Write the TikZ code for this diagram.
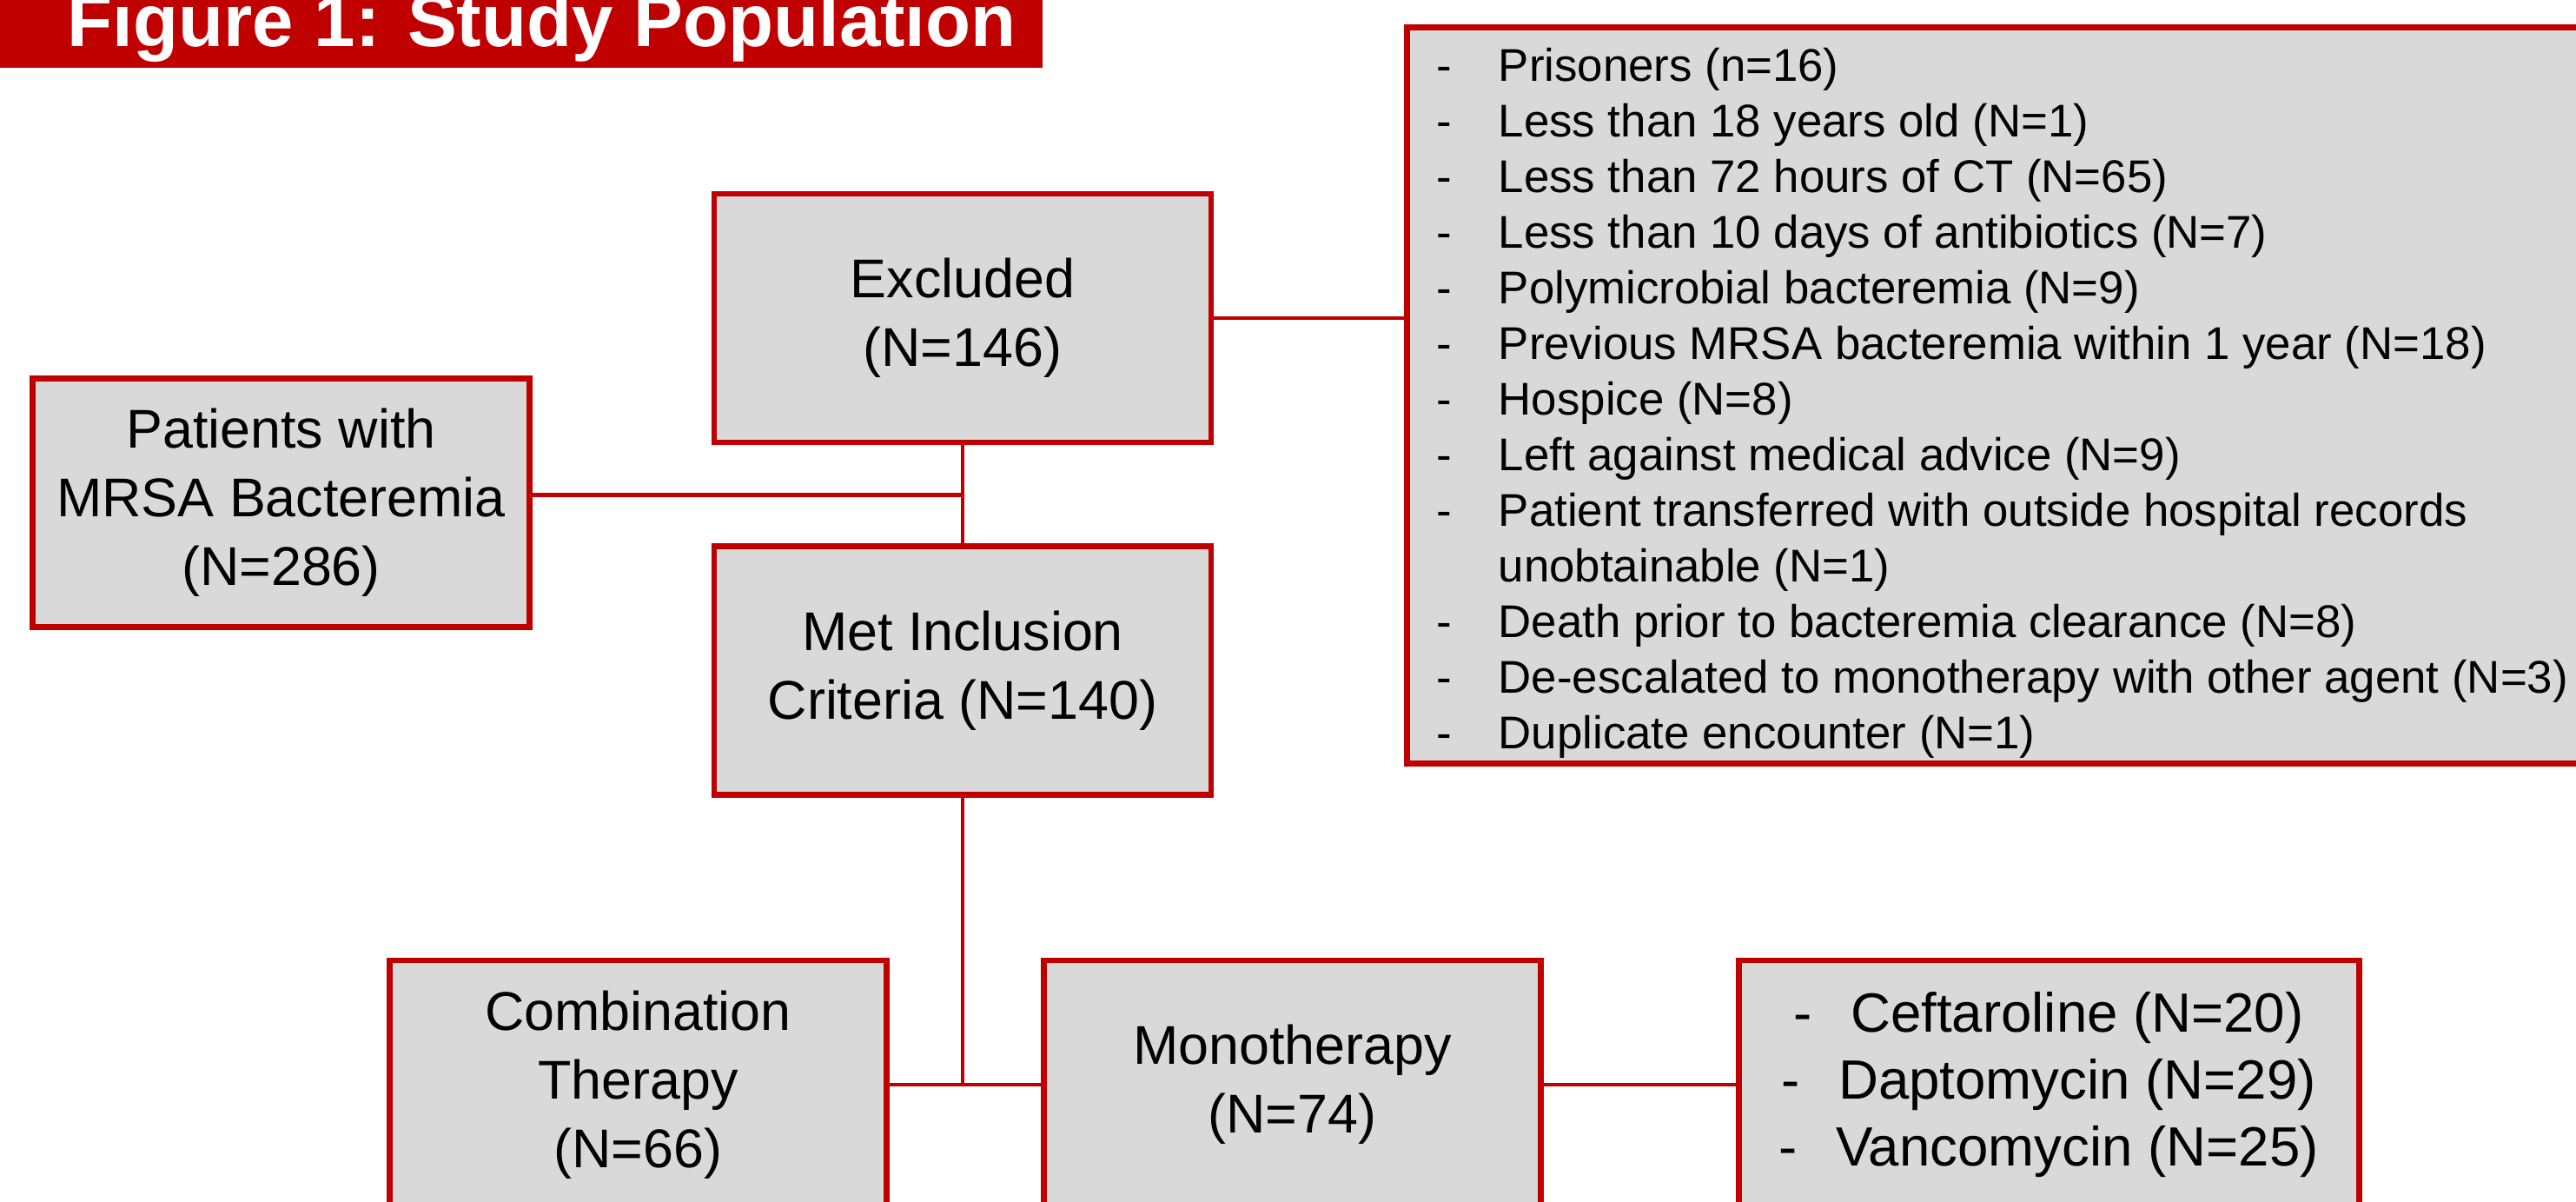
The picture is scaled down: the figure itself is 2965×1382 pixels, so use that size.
\documentclass[tikz,border=0pt]{standalone}
\usepackage{fontspec}
\setmainfont{Liberation Sans}
\usepackage{xcolor}
\usepackage{tikz}
\usetikzlibrary{positioning}
\definecolor{figred}{RGB}{192,0,0}
\definecolor{figgray}{RGB}{217,217,217}
\newcommand{\traco}{\makebox[17.75pt][l]{-}}

\begin{document}
\begin{tikzpicture}[
        x=0.25pt, y=-0.25pt,
        caixa/.style={draw=figred,fill=figgray,line width=1.7pt,minimum width=143pt,minimum height=71.5pt,align=center,inner sep=0pt,font=\fontsize{15.7}{19.8}\selectfont},
        liga/.style={draw=figred,line width=1.1pt}
    ]
        \path[use as bounding box,fill=white] (0,0) rectangle (2965,1382);

        % faixa do titulo
        \fill[figred] (-20,-100) rectangle (1200,78);
        \node[anchor=base west,inner sep=0pt,text=white,font=\fontsize{21.3}{25}\selectfont\bfseries] (titulo) at (77,53) {Figure 1: Study Population};

        \node[caixa] (pac) at (323.5,578.5) {Patients with\\MRSA Bacteremia\\(N=286)};
        \node[caixa] (exc) at (1108,366) {Excluded\\(N=146)};
        \node[caixa,below=28.25pt of exc] (inc) {Met Inclusion\\Criteria (N=140)};
        \node[caixa,anchor=north west,minimum width=346pt,minimum height=211.75pt] (motivos) at (1616,28) {};
        \node[anchor=north west,inner sep=0pt,align=left,font=\fontsize{13.2}{16}\selectfont] (lista) at (1653,48) {\strut\traco Prisoners (n=16)\\
            \traco Less than 18 years old (N=1)\\
            \traco Less than 72 hours of CT (N=65)\\
            \traco Less than 10 days of antibiotics (N=7)\\
            \traco Polymicrobial bacteremia (N=9)\\
            \traco Previous MRSA bacteremia within 1 year (N=18)\\
            \traco Hospice (N=8)\\
            \traco Left against medical advice (N=9)\\
            \traco Patient transferred with outside hospital records\\
            \hspace*{17.75pt}unobtainable (N=1)\\
            \traco Death prior to bacteremia clearance (N=8)\\
            \traco De-escalated to monotherapy with other agent (N=3)\\
            \traco Duplicate encounter (N=1)};

        \node[caixa] (comb) at (734.5,1248) {Combination\\Therapy\\(N=66)};
        \node[caixa,right=43.5pt of comb] (mono) {Monotherapy\\(N=74)};
        \node[caixa,right=55.25pt of mono,minimum width=178.5pt,font=\fontsize{15.9}{19.3}\selectfont] (farm) {-\hspace{0.7em}Ceftaroline (N=20)\\-\hspace{0.7em}Daptomycin (N=29)\\-\hspace{0.7em}Vancomycin (N=25)};

        \coordinate (juncao) at ([yshift=2.25pt]pac.east -| exc.south);
        \draw[liga] ([yshift=2.25pt]pac.east) -- (juncao);
        \draw[liga] (exc.south) -- (inc.north);
        \draw[liga] (exc.east) -- (exc.east -| motivos.west);
        \draw[liga] (inc.south) -- (inc.south |- comb.east);
        \draw[liga] (comb.east) -- (mono.west);
        \draw[liga] (mono.east) -- (farm.west);
    \end{tikzpicture}
\end{document}
